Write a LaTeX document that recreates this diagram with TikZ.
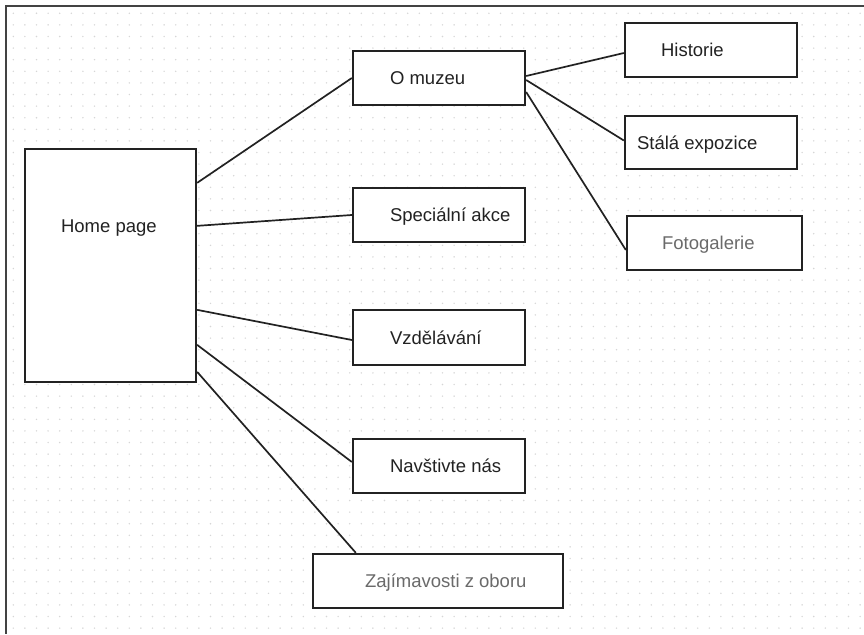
\documentclass[tikz,border=0pt]{standalone}
\usepackage{fontspec}
\setmainfont{Liberation Sans}
\usepackage{xcolor}
\usetikzlibrary{positioning}
\definecolor{inkgray}{HTML}{222222}
\definecolor{softgray}{HTML}{6A6A6A}
\definecolor{dotgray}{HTML}{D6D6D6}

\begin{document}
\begin{tikzpicture}[
  x=1pt, y=-1pt,
  page/.style={draw=inkgray, line width=2.3pt, fill=white, inner sep=0pt,
    minimum width=172pt, minimum height=54pt},
  lbl/.style={inner sep=0pt, text height=13pt, text depth=0pt, text=inkgray,
    font=\fontsize{18.5}{22}\selectfont},
  faint/.style={lbl, text=softgray},
  link/.style={draw=inkgray, line width=1.7pt}]
\useasboundingbox (0,0) rectangle (864,634);
\fill[white] (0,0) rectangle (864,634);
\foreach \i in {0,...,73}
  \foreach \j in {0,...,53}
    \fill[dotgray] (13.3+11.6*\i, 13.3+11.6*\j) circle (0.8pt);
\draw[inkgray!85, line width=1.6pt] (864,6) -- (6,6) -- (6,634);

\node[page, minimum width=171pt, minimum height=233pt] (home) at (110.5,265.5) {};
\node[page] (omuzeu) at (439,78) {};
\node[page] (special) at (439,215) {};
\node[page, minimum height=55pt] (vzdel) at (439,337.5) {};
\node[page] (navst) at (439,466) {};
\node[page, minimum width=250pt] (zajim) at (438,581) {};
\node[page] (hist) at (711,50) {};
\node[page, minimum height=53pt] (stala) at (711,142.5) {};
\node[page, minimum width=175pt] (foto) at (714.5,243) {};

\node[lbl, below right=71pt and 37pt of home.north west] {Home page};
\node[lbl, right=38pt of omuzeu.west] {O muzeu};
\node[lbl, right=38pt of special.west] {Speciální akce};
\node[lbl, right=38pt of vzdel.west] {Vzdělávání};
\node[lbl, right=38pt of navst.west] {Navštivte nás};
\node[faint, right=53pt of zajim.west] {Zajímavosti z oboru};
\node[lbl, right=37pt of hist.west] {Historie};
\node[lbl, right=13pt of stala.west] {Stálá expozice};
\node[faint, right=36pt of foto.west] {Fotogalerie};

\draw[link] ([yshift=-35pt]home.north east) -- (omuzeu.west);
\draw[link] ([yshift=-78pt]home.north east) -- (special.west);
\draw[link] ([yshift=-162pt]home.north east) -- ([yshift=-2.5pt]vzdel.west);
\draw[link] ([yshift=-197pt]home.north east) -- ([yshift=4pt]navst.west);
\draw[link] ([yshift=-224pt]home.north east) -- ([xshift=44pt]zajim.north west);
\draw[link] ([yshift=2pt]omuzeu.east) -- ([yshift=-3pt]hist.west);
\draw[link] ([yshift=-2pt]omuzeu.east) -- ([yshift=2pt]stala.west);
\draw[link] ([yshift=-14pt]omuzeu.east) -- ([yshift=-7pt]foto.west);
\end{tikzpicture}
\end{document}
